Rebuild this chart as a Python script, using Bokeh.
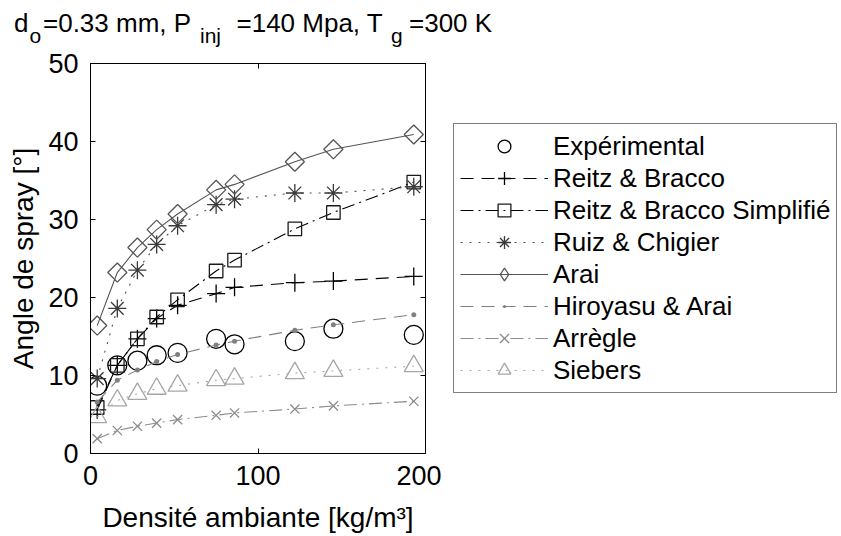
import math
from bokeh.plotting import figure
from bokeh.layouts import column, row
from bokeh.models import (Legend, LegendItem, LinearAxis, FixedTicker, Range1d, Div)
from bokeh.embed import file_html
from bokeh.resources import INLINE

# ---- data ----
density = [4, 16, 28, 39.5, 52, 75, 86, 122, 145, 193]
experimental = [8.7, 11.3, 11.9, 12.6, 12.9, 14.7, 14.0, 14.4, 16.0, 15.2]
reitz_bracco = [5.6, 11.3, 14.7, 17.3, 19.0, 20.5, 21.3, 21.9, 22.1, 22.7]
reitz_simpl = [5.9, 11.3, 14.7, 17.5, 19.7, 23.4, 24.8, 28.8, 30.9, 34.8]
ruiz_chigier = [9.6, 18.6, 23.5, 26.8, 29.2, 31.9, 32.6, 33.4, 33.4, 34.2]
arai = [16.4, 23.2, 26.4, 28.7, 30.7, 33.8, 34.5, 37.4, 39.0, 40.9]
hiroyasu_arai = [6.6, 9.4, 10.7, 11.8, 12.7, 13.9, 14.4, 15.8, 16.5, 17.8]
arregle = [1.9, 2.95, 3.5, 3.9, 4.35, 4.9, 5.2, 5.7, 6.1, 6.7]
siebers = [4.65, 6.8, 7.65, 8.3, 8.7, 9.4, 9.6, 10.3, 10.6, 11.2]

x_ticks = [0, 100, 200]
y_ticks = [0, 10, 20, 30, 40, 50]

series_labels = ["Expérimental", "Reitz & Bracco", "Reitz & Bracco Simplifié",
                 "Ruiz & Chigier", "Arai", "Hiroyasu & Arai", "Arrègle", "Siebers"]

# title pieces: text, is_subscript
title_texts = ["d", "o", "=0.33 mm, P", "inj", "=140 Mpa, T", "g", "=300 K"]
title_sub = [False, True, False, True, False, True, False]

FONT = "Liberation Sans"
W = 841
H = 536
TITLE_H = 47
MAIN_W = 441

# ---------------- title (HTML, with real subscripts) ----------------
title_left = [14, 29.5, 43, 200, 236.5, 391, 409]
spans = []
for txt, sub, left in zip(title_texts, title_sub, title_left):
    fs = 21 if sub else 26
    top = 25.3 if sub else 10
    spans.append(
        f'<span style="position:absolute;left:{left}px;top:{top}px;font-size:{fs}px;'
        f'line-height:1;white-space:nowrap;">{txt}</span>')
title_html = (f'<div style="position:relative;width:{W}px;height:{TITLE_H}px;overflow:visible;'
              f'font-family:\'{FONT}\';color:black;">' + "".join(spans) + "</div>")
title_div = Div(text=title_html, width=W, height=TITLE_H, margin=0,
                styles={"overflow": "visible"})

# ---------------- main plot ----------------
p = figure(width=MAIN_W, height=H - TITLE_H, output_backend="svg", toolbar_location=None,
           x_range=Range1d(0, 200), y_range=Range1d(0, 50),
           min_border_left=90, min_border_right=MAIN_W - 425,
           min_border_top=63 - TITLE_H, min_border_bottom=83, margin=0)
p.grid.visible = False
p.outline_line_color = "black"
p.outline_line_width = 1
p.background_fill_color = "white"
p.border_fill_color = None

p.xaxis.ticker = FixedTicker(ticks=x_ticks)
p.yaxis.ticker = FixedTicker(ticks=y_ticks)
p.xaxis.axis_label = "Densité ambiante [kg/m³]"
p.yaxis.axis_label = "Angle de spray [°]"
for ax in (p.xaxis[0], p.yaxis[0]):
    ax.major_tick_in = 5
    ax.major_tick_out = 0
    ax.minor_tick_line_color = None
    ax.axis_line_color = "black"
    ax.major_tick_line_color = "black"
    ax.major_label_text_font = FONT
    ax.major_label_text_font_size = "27px"
    ax.major_label_text_color = "black"
    ax.axis_label_text_font = FONT
    ax.axis_label_text_font_size = "28px"
    ax.axis_label_text_font_style = "normal"
    ax.axis_label_text_color = "black"
p.xaxis.major_label_standoff = 12
p.xaxis.axis_label_standoff = 14
p.yaxis.major_label_standoff = 12
p.yaxis.axis_label_standoff = 6

for loc, tk in (("above", x_ticks), ("right", y_ticks)):
    ax = LinearAxis(ticker=FixedTicker(ticks=tk), major_tick_in=5, major_tick_out=0,
                    minor_tick_line_color=None, axis_line_color="black",
                    major_label_text_font_size="1px", major_label_text_alpha=0,
                    major_label_standoff=0)
    p.add_layout(ax, loc)

# ---------------- legend panel (separate figure, same vertical borders) ----------------
# its ranges lie away from the data, so its renderers only show up in the legend
lf = figure(width=W - MAIN_W, height=H - TITLE_H, output_backend="svg", toolbar_location=None,
            x_range=Range1d(-2, -1), y_range=Range1d(-2, -1),
            x_axis_location=None, y_axis_location=None,
            min_border_left=0, min_border_right=0,
            min_border_top=63 - TITLE_H, min_border_bottom=83, margin=0)
lf.grid.visible = False
lf.outline_line_color = None
lf.background_fill_color = "white"
lf.border_fill_color = None

DASH = "13 8"
DASHDOT = "13 5 2 5"
DOT = "2 7"

# style per series: (line_color, line_dash, marker, plot size, marker color, angle, legend marker)
styles = [
    (None, None, "circle", 19, "black", 0.0, "circle"),
    ("black", DASH, "cross", 18, "black", 0.0, "cross"),
    ("black", DASHDOT, "square", 13.5, "#1a1a1a", 0.0, "square"),
    ("#505050", DOT, "asterisk", 18, "#3a3a3a", 0.0, "asterisk"),
    ("#555555", "solid", "square", 13.5, "#555555", math.pi / 4, "diamond"),
    ("#808080", DASH, "dot", 20, "#808080", 0.0, "dot"),
    ("#8c8c8c", DASHDOT, "x", 13, "#8c8c8c", 0.0, "x"),
    ("#a8a8a8", DOT, "triangle", 19, "#a6a6a6", 0.0, "triangle"),
]
series_values = [experimental, reitz_bracco, reitz_simpl, ruiz_chigier, arai,
                 hiroyasu_arai, arregle, siebers]

items = []
for label, vals, (lc, dash, mk, sz, mc, ang, lmk) in zip(series_labels, series_values, styles):
    fill = mc if mk == "dot" else None
    if lc is not None:
        p.line(density, vals, line_color=lc, line_width=1.1, line_dash=dash)
    p.scatter(density, vals, marker=mk, size=sz, angle=ang, fill_color=fill,
              line_color=mc, line_width=1.3)
    rends = []
    if lc is not None:
        rends.append(lf.line(density, vals, line_color=lc, line_width=1.1, line_dash=dash))
    rends.append(lf.scatter(density, vals, marker=lmk, size=sz, fill_color=fill,
                            line_color=mc, line_width=1.3))
    items.append(LegendItem(label=label, renderers=rends))

legend = Legend(items=items, location=(453 - MAIN_W, 453 - 393), margin=0, padding=6, spacing=0,
                glyph_width=88, glyph_height=32, label_height=32, label_standoff=5,
                label_text_font=FONT, label_text_font_size="26px", label_text_color="black",
                border_line_color="black", border_line_width=1,
                background_fill_color="white", background_fill_alpha=1)
lf.add_layout(legend, "center")

layout = column(title_div, row(p, lf, spacing=0, margin=0), spacing=0, margin=0)
open("out.html", "w").write(file_html(layout, INLINE))
